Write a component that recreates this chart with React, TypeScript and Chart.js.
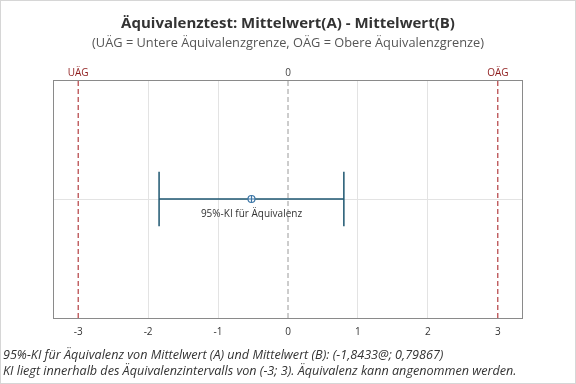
import React, { useEffect, useRef } from "react";
import { Chart, registerables } from "chart.js";

Chart.register(...registerables);

const titleText = "Äquivalenztest: Mittelwert(A) - Mittelwert(B)";
const subtitleText = "(UÄG = Untere Äquivalenzgrenze, OÄG = Obere Äquivalenzgrenze)";
const footLines = [
  "95%-KI für Äquivalenz von Mittelwert (A) und Mittelwert (B): (-1,8433@; 0,79867)",
  "KI liegt innerhalb des Äquivalenzintervalls von (-3; 3). Äquivalenz kann angenommen werden.",
];
const tickValues = [-3, -2, -1, 0, 1, 2, 3];
const ciBounds = [-1.8433, 0.79867];
const estimate = [-0.522];
const eqLimits = [-3, 3];
const eqLabels = ["UÄG", "OÄG"];
const ciLabel = "95%-KI für Äquivalenz";

const FONT = "'Open Sans', 'Noto Sans', sans-serif";
const RED = "#a3171b";
const BLUE = "#1d5670";

export default function App() {
  const ref = useRef<HTMLCanvasElement | null>(null);
  useEffect(() => {
    if (!ref.current) return;
    const yMid = 1;
    const capHalf = 0.23;
    const datasets: any[] = [
      {
        label: "ci",
        data: [
          { x: ciBounds[0], y: yMid },
          { x: ciBounds[1], y: yMid },
        ],
        borderColor: BLUE,
        borderWidth: 1.5,
        pointRadius: 0,
        showLine: true,
      },
      ...ciBounds.map((b) => ({
        label: "cap",
        data: [
          { x: b, y: yMid - capHalf },
          { x: b, y: yMid + capHalf },
        ],
        borderColor: BLUE,
        borderWidth: 1.5,
        pointRadius: 0,
        showLine: true,
      })),
      ...eqLimits.map((b) => ({
        label: "eq",
        data: [
          { x: b, y: 0 },
          { x: b, y: 2 },
        ],
        borderColor: RED,
        borderWidth: 1,
        borderDash: [5, 3],
        pointRadius: 0,
        showLine: true,
      })),
      {
        label: "zero",
        data: [
          { x: 0, y: 0 },
          { x: 0, y: 2 },
        ],
        borderColor: "#9a9a9a",
        borderWidth: 1,
        borderDash: [5, 3],
        pointRadius: 0,
        showLine: true,
      },
      {
        label: "est",
        data: estimate.map((e) => ({ x: e, y: yMid })),
        pointRadius: 0,
        showLine: false,
      },
    ];

    const plugin = {
      id: "custom",
      beforeDraw(chart: any) {
        const ctx = chart.ctx;
        ctx.save();
        ctx.fillStyle = "#ffffff";
        ctx.fillRect(0, 0, chart.width, chart.height);
        ctx.strokeStyle = "#d6d6d6";
        ctx.lineWidth = 1;
        ctx.strokeRect(0.5, 0.5, chart.width - 1, chart.height - 1);
        ctx.restore();
      },
      afterDatasetsDraw(chart: any) {
        const ctx = chart.ctx;
        const { left, right, top, bottom } = chart.chartArea;
        const xs = chart.scales.x;
        const ys = chart.scales.y;
        ctx.save();
        // border
        ctx.strokeStyle = "#8a8a8a";
        ctx.lineWidth = 1;
        ctx.strokeRect(Math.round(left) + 0.5, Math.round(top) + 0.5, Math.round(right - left) - 1, Math.round(bottom - top));
        // estimate marker
        estimate.forEach((e) => {
          const px = xs.getPixelForValue(e);
          const py = ys.getPixelForValue(yMid);
          ctx.fillStyle = "#ffffff";
          ctx.strokeStyle = "#3b75a6";
          ctx.lineWidth = 1.2;
          ctx.beginPath();
          ctx.arc(px, py, 3.5, 0, Math.PI * 2);
          ctx.fill();
          ctx.stroke();
          ctx.beginPath();
          ctx.moveTo(px, py - 3.5);
          ctx.lineTo(px, py + 3.5);
          ctx.moveTo(px - 3.5, py);
          ctx.lineTo(px + 3.5, py);
          ctx.stroke();
        });
        // CI label
        ctx.fillStyle = "#333333";
        ctx.font = `10px ${FONT}`;
        ctx.textAlign = "center";
        ctx.textBaseline = "middle";
        ctx.fillText(ciLabel, xs.getPixelForValue(estimate[0]), ys.getPixelForValue(yMid) + 15);
        // top labels
        ctx.textBaseline = "alphabetic";
        ctx.font = `10px ${FONT}`;
        eqLimits.forEach((b, i) => {
          ctx.fillStyle = "#8e1b1b";
          ctx.fillText(eqLabels[i], xs.getPixelForValue(b), top - 4);
        });
        ctx.fillStyle = "#444444";
        ctx.fillText("0", xs.getPixelForValue(0), top - 4);
        // title
        ctx.fillStyle = "#333333";
        ctx.font = `bold 15px ${FONT}`;
        ctx.fillText(titleText, 288, 28);
        ctx.fillStyle = "#555555";
        ctx.font = `12.8px ${FONT}`;
        ctx.fillText(subtitleText, 288, 47);
        // footnotes
        ctx.textAlign = "left";
        ctx.fillStyle = "#333333";
        ctx.font = `italic 12.6px ${FONT}`;
        ctx.fillText(footLines[0], 3, 359);
        ctx.fillText(footLines[1], 3, 375);
        ctx.restore();
      },
    };

    const chart = new Chart(ref.current, {
      type: "scatter",
      data: { datasets },
      plugins: [plugin],
      options: {
        animation: false,
        responsive: false,
        maintainAspectRatio: false,
        layout: { padding: { left: 53, right: 53, top: 80, bottom: 0 } },
        plugins: { legend: { display: false }, tooltip: { enabled: false }, title: { display: false } },
        scales: {
          x: {
            type: "linear",
            min: -3.36,
            max: 3.36,
            afterBuildTicks: (scale: any) => {
              scale.ticks = tickValues.map((v) => ({ value: v }));
            },
            afterFit: (scale: any) => {
              scale.height = 66;
            },
            grid: {
              color: (c: any) => (c.tick && (c.tick.value === 0 || Math.abs(c.tick.value) === 3) ? "rgba(0,0,0,0)" : "#e3e3e3"),
              drawTicks: false,
              lineWidth: 1,
            },
            border: { display: false },
            ticks: {
              color: "#333333",
              font: { family: FONT, size: 10 },
              padding: 8,
              maxRotation: 0,
              callback: (v: any) => String(v),
            },
          },
          y: {
            type: "linear",
            min: 0,
            max: 2,
            display: true,
            afterBuildTicks: (scale: any) => {
              scale.ticks = [{ value: 1 }];
            },
            afterFit: (scale: any) => {
              scale.width = 0;
            },
            grid: { color: "#e3e3e3", drawTicks: false },
            border: { display: false },
            ticks: { display: false },
          },
        },
      },
    });
    return () => chart.destroy();
  }, []);

  return (
    <div style={{ position: "fixed", left: 0, top: 0, width: 576, height: 384, background: "#fff" }}>
      <canvas ref={ref} width={576} height={384} style={{ display: "block" }} />
    </div>
  );
}
